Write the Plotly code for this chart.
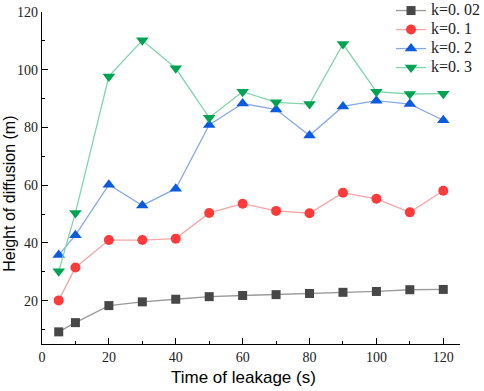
import plotly.graph_objects as go

time_s = [5, 10, 20, 30, 40, 50, 60, 70, 80, 90, 100, 110, 120]
k002 = [9.2, 12.4, 18.3, 19.6, 20.5, 21.4, 21.8, 22.1, 22.5, 22.9, 23.2, 23.8, 23.9]
k01 = [20.1, 31.5, 41.0, 41.0, 41.5, 50.4, 53.6, 51.1, 50.3, 57.4, 55.3, 50.6, 58.1]
k02 = [35.8, 42.7, 60.2, 53.0, 58.8, 80.9, 88.3, 86.2, 77.2, 87.3, 89.3, 88.1, 82.5]
k03 = [30.2, 50.4, 97.7, 110.2, 100.5, 83.4, 92.4, 88.7, 88.1, 108.9, 92.4, 91.6, 91.7]
labels = ["k=0. 02", "k=0. 1", "k=0. 2", "k=0. 3"]
x_title = "Time of leakage (s)"
y_title = "Height of diffusion (m)"

series = [
    (labels[0], k002, "square", "#474747", "#9a9a9a", 9),
    (labels[1], k01, "circle", "#ff3a3a", "#f7a5a5", 10),
    (labels[2], k02, "triangle-up", "#0a5be0", "#8aaae6", 11),
    (labels[3], k03, "triangle-down", "#00a352", "#7fd6ad", 11),
]

fig = go.Figure()
for name, vals, sym, mc, lc, sz in series:
    fig.add_trace(go.Scatter(
        x=time_s, y=vals, name="<span style='font-size:16px'>" + name + "</span>",
        mode="lines+markers",
        line=dict(color=lc, width=1.3),
        marker=dict(symbol=sym, color=mc, size=sz, line=dict(width=0)),
    ))

axis_common = dict(
    showgrid=False, zeroline=False, showline=True, linecolor="black", linewidth=1.3,
    ticks="inside", ticklen=6, tickwidth=1.3, tickcolor="black", automargin=False,
    tickfont=dict(family="Liberation Serif", size=14, color="#222"),
    minor=dict(ticks="inside", ticklen=3, tickwidth=1.1, tickcolor="black"),
)

fig.update_xaxes(range=[0, 125], dtick=20, tick0=0, minor_dtick=10, **axis_common)
fig.update_yaxes(range=[5, 120], dtick=20, tick0=0, minor_dtick=10, **axis_common)

fig.add_annotation(text=x_title, xref="paper", yref="paper", x=0.482, y=-0.102,
                   xanchor="center", yanchor="middle", showarrow=False,
                   font=dict(family="Liberation Sans", size=17, color="black"))
fig.add_annotation(text=y_title, xref="paper", yref="paper", x=-0.077, y=0.452,
                   xanchor="center", yanchor="middle", showarrow=False, textangle=-90,
                   font=dict(family="Liberation Sans", size=16, color="black"))

fig.update_layout(
    width=484, height=391,
    margin=dict(l=42, r=24, t=12, b=47, autoexpand=False),
    plot_bgcolor="white", paper_bgcolor="white",
    legend=dict(x=0.835, xanchor="left", y=1.048, yanchor="top",
                font=dict(family="Liberation Serif", size=11, color="#222"),
                bgcolor="rgba(0,0,0,0)", tracegroupgap=0, itemwidth=30),
    showlegend=True,
)

fig.write_html("out.html", config={"displayModeBar": False},
               post_script="document.body.style.margin='0';document.body.style.overflow='hidden';")
